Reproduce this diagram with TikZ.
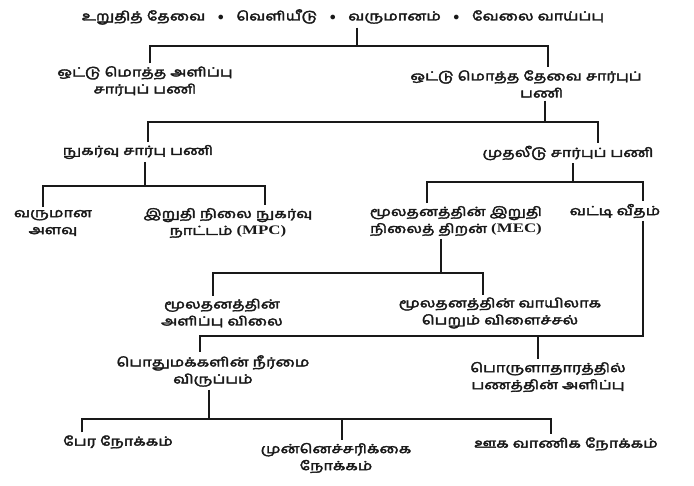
\documentclass[tikz,border=0pt]{standalone}
\usepackage{fontspec}
\newfontfamily\ta[Script=Tamil, FakeBold=3, FakeStretch=1.3]{Hind Madurai}
\newfontfamily\lat[FakeStretch=1.3]{Liberation Serif}
\newcommand{\bl}{\quad${\bullet}$\quad}
\begin{document}
\begin{tikzpicture}[x=1pt,y=-1pt,
  ln/.style={line width=1.8pt, draw=black!90},
  lbl/.style={font=\ta\fontsize{12.5}{17}\selectfont, align=center, inner sep=0pt, outer sep=3pt, text=black!90}]
\useasboundingbox[fill=white] (0,0) rectangle (694,486);

% nodes
\node[lbl] (top) at (343,17) {உறுதித் தேவை\bl வெளியீடு\bl வருமானம்\bl வேலை வாய்ப்பு};
\node[lbl] (as) at (145,81) {ஒட்டு மொத்த அளிப்பு\\சார்புப் பணி};
\node[lbl] (ad) at (526,84) {ஒட்டு மொத்த தேவை சார்புப்\\\hspace*{2.5em}பணி};
\node[lbl] (cf) at (138,152) {நுகர்வு சார்பு பணி};
\node[lbl] (inv) at (568,153) {முதலீடு சார்புப் பணி};
\node[lbl] (inc) at (53,223) {வருமான\\அளவு};
\node[lbl] (mpc) at (228,223) {இறுதி நிலை நுகர்வு\\நாட்டம் {\lat\bfseries\fontsize{13}{17}\selectfont (MPC)}};
\node[lbl] (mec) at (456,221) {மூலதனத்தின் இறுதி\\நிலைத் திறன் {\lat\bfseries\fontsize{13}{17}\selectfont (MEC)}};
\node[lbl] (ir) at (615,211) {வட்டி வீதம்};
\node[lbl] (sp) at (222,313) {மூலதனத்தின்\\அளிப்பு விலை};
\node[lbl] (py) at (500,313) {மூலதனத்தின் வாயிலாக\\பெறும் விளைச்சல்};
\node[lbl] (lp) at (213,371) {பொதுமக்களின் நீர்மை\\விருப்பம்};
\node[lbl] (ms) at (548,377) {பொருளாதாரத்தில்\\பணத்தின் அளிப்பு};
\node[lbl] (tm) at (118,442) {பேர நோக்கம்};
\node[lbl] (pm) at (336,458) {முன்னெச்சரிக்கை\\நோக்கம்};
\node[lbl] (sm) at (566,444) {ஊக வாணிக நோக்கம்};

% junctions
\coordinate (h1m) at (357,46); \coordinate (h1l) at (150,46); \coordinate (h1r) at (548,46);
\coordinate (h2m) at (545,122); \coordinate (h2l) at (148,122); \coordinate (h2r) at (598,122);
\coordinate (h3m) at (145,186); \coordinate (h3l) at (43,186); \coordinate (h3r) at (265,186);
\coordinate (h4m) at (573,182); \coordinate (h4l) at (427,182); \coordinate (h4r) at (643,182);
\coordinate (h5m) at (441,273); \coordinate (h5l) at (213,273); \coordinate (h5r) at (483,273);
\coordinate (h6l) at (200,336); \coordinate (h6r) at (643,336); \coordinate (h6d) at (538,336);
\coordinate (h7m) at (209,419); \coordinate (h7l) at (82,419); \coordinate (h7c) at (342,419); \coordinate (h7r) at (551,419);

% connectors
\draw[ln] (top.south -| h1m) -- (h1m);
\draw[ln] (as.north -| h1l) -- (h1l) -- (h1r) -- (ad.north -| h1r);
\draw[ln] (ad.south -| h2m) -- (h2m);
\draw[ln] (cf.north -| h2l) -- (h2l) -- (h2r) -- (inv.north -| h2r);
\draw[ln] (cf.south -| h3m) -- (h3m);
\draw[ln] (inc.north -| h3l) -- (h3l) -- (h3r) -- (mpc.north -| h3r);
\draw[ln] (inv.south -| h4m) -- (h4m);
\draw[ln] (mec.north -| h4l) -- (h4l) -- (h4r) -- (ir.north -| h4r);
\draw[ln] (mec.south -| h5m) -- (h5m);
\draw[ln] (sp.north -| h5l) -- (h5l) -- (h5r) -- (py.north -| h5r);
\draw[ln] (ir.south -| h6r) -- (h6r) -- (h6l) -- (lp.north -| h6l);
\draw[ln] (h6d) -- (ms.north -| h6d);
\draw[ln] (lp.south -| h7m) -- (h7m);
\draw[ln] (tm.north -| h7l) -- (h7l) -- (h7r) -- (sm.north -| h7r);
\draw[ln] (h7c) -- (pm.north -| h7c);
\end{tikzpicture}
\end{document}
